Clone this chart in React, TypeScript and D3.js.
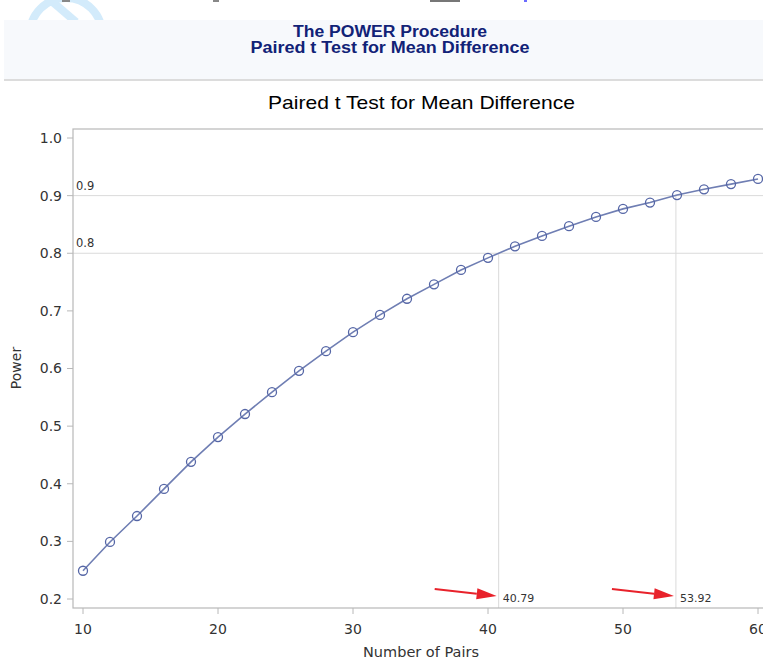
import React, { useEffect } from "react";
import * as d3 from "d3";

const pairs = [10, 12, 14, 16, 18, 20, 22, 24, 26, 28, 30, 32, 34, 36, 38, 40, 42, 44, 46, 48, 50, 52, 54, 56, 58, 60];
const power = [0.249, 0.299, 0.344, 0.391, 0.438, 0.481, 0.521, 0.559, 0.596, 0.630, 0.663, 0.693, 0.721, 0.746, 0.771, 0.792, 0.812, 0.830, 0.847, 0.863, 0.877, 0.888, 0.901, 0.911, 0.920, 0.929];
const xTicks = [10, 20, 30, 40, 50, 60];
const yTicks = [0.2, 0.3, 0.4, 0.5, 0.6, 0.7, 0.8, 0.9, 1.0];
const targetPowers = [0.8, 0.9];
const requiredPairs = [40.79, 53.92];
const headerLines = ["The POWER Procedure", "Paired t Test for Mean Difference"];
const headerWidths = [194, 279];
const chartTitle = "Paired t Test for Mean Difference";
const xLabel = "Number of Pairs";
const yLabel = "Power";

const W = 763;
const H = 666;
const FONT = "'DejaVu Sans', Verdana, sans-serif";

export default function App() {
  useEffect(() => {
    document.body.style.margin = "0";
  }, []);

  const x = d3.scaleLinear().domain([10, 60]).range([83, 758]);
  const y = d3.scaleLinear().domain([0.2, 1.0]).range([599, 138]);
  const frameL = 73, frameT = 129, frameB = 608, frameR = 780;

  const line = d3
    .line<number>()
    .x((_, i) => x(pairs[i]))
    .y((d) => y(d));

  const arrow = (tipX: number, tipY: number, key: string) => {
    const sx = tipX - 62, sy = tipY - 7;
    const ang = Math.atan2(tipY - sy, tipX - sx);
    const hl = 20, hw = 5.5;
    const bx = tipX - hl * Math.cos(ang), by = tipY - hl * Math.sin(ang);
    const px = -Math.sin(ang), py = Math.cos(ang);
    return (
      <g key={key}>
        <line x1={sx} y1={sy} x2={bx} y2={by} stroke="#e8222b" strokeWidth={2.2} />
        <polygon
          points={`${tipX},${tipY} ${bx + px * hw},${by + py * hw} ${bx - px * hw},${by - py * hw}`}
          fill="#e8222b"
        />
      </g>
    );
  };

  return (
    <svg width={W} height={H} style={{ display: "block", background: "#fff" }}>
      {/* watermark fragments */}
      <g>
        <clipPath id="topclip">
          <rect x={0} y={0} width={W} height={20} />
        </clipPath>
        <g clipPath="url(#topclip)">
          <circle cx={66} cy={34} r={36} fill="none" stroke="#d3ebfb" strokeWidth={8} />
          <line x1={48} y1={-2} x2={76} y2={22} stroke="#d3ebfb" strokeWidth={8} />
        </g>
        <rect x={62} y={0} width={8} height={2} fill="#888" />
        <rect x={213} y={0} width={6} height={2} fill="#888" />
        <rect x={430} y={0} width={30} height={2} fill="#777" />
        <rect x={524} y={0} width={3} height={2} fill="#6b6bff" />
      </g>

      {/* header panel */}
      <rect x={4} y={20} width={W - 4} height={60} fill="#f7f9fc" />
      <rect x={4} y={79} width={W - 4} height={2} fill="#dcdcdc" />
      {headerLines.map((t, i) => (
        <text
          key={t}
          x={390 - headerWidths[i] / 2}
          y={36.5 + i * 16.5}
          textLength={headerWidths[i]}
          lengthAdjust="spacingAndGlyphs"
          fontFamily="'Liberation Sans', Arial, sans-serif"
          fontWeight="bold"
          fontSize={16}
          fill="#112277"
        >
          {t}
        </text>
      ))}

      {/* title */}
      <text
        x={268}
        y={109}
        textLength={307}
        lengthAdjust="spacingAndGlyphs"
        fontFamily="'Liberation Sans', Arial, sans-serif"
        fontSize={19}
        fill="#000"
      >
        {chartTitle}
      </text>

      {/* reference lines */}
      {targetPowers.map((p) => (
        <g key={"h" + p}>
          <line x1={frameL} x2={frameR} y1={y(p)} y2={y(p)} stroke="#dadada" strokeWidth={1} />
          <text x={76} y={y(p) - 6} fontFamily={FONT} fontSize={11.5} fill="#333">
            {p.toFixed(1)}
          </text>
        </g>
      ))}
      {requiredPairs.map((n, i) => (
        <g key={"v" + n}>
          <line x1={x(n)} x2={x(n)} y1={y(targetPowers[i])} y2={frameB} stroke="#dadada" strokeWidth={1} />
          <text x={x(n) + 4} y={601.5} fontFamily={FONT} fontSize={11} fill="#333">
            {n.toFixed(2)}
          </text>
        </g>
      ))}

      {/* frame */}
      <rect x={frameL} y={frameT} width={frameR - frameL} height={frameB - frameT} fill="none" stroke="#b8b8b8" strokeWidth={1.2} />

      {/* y axis ticks */}
      {yTicks.map((t) => (
        <g key={"yt" + t}>
          <line x1={frameL - 6} x2={frameL} y1={y(t)} y2={y(t)} stroke="#b8b8b8" />
          <text x={frameL - 11} y={y(t)} dy="0.35em" textAnchor="end" fontFamily={FONT} fontSize={14} fill="#333">
            {t.toFixed(1)}
          </text>
        </g>
      ))}
      {/* x axis ticks */}
      {xTicks.map((t) => (
        <g key={"xt" + t}>
          <line x1={x(t)} x2={x(t)} y1={frameB} y2={frameB + 6} stroke="#b8b8b8" />
          <text x={x(t)} y={634} textAnchor="middle" fontFamily={FONT} fontSize={14} fill="#333">
            {t}
          </text>
        </g>
      ))}

      {/* axis labels */}
      <text x={421} y={657} textAnchor="middle" fontFamily={FONT} fontSize={14.5} fill="#333">
        {xLabel}
      </text>
      <text
        transform={`translate(21,368) rotate(-90)`}
        textAnchor="middle"
        fontFamily={FONT}
        fontSize={14}
        fill="#333"
      >
        {yLabel}
      </text>

      {/* series */}
      <path d={line(power) || ""} fill="none" stroke="#6f7eb3" strokeWidth={1.6} />
      {power.map((p, i) => (
        <circle key={"c" + i} cx={x(pairs[i])} cy={y(p)} r={4.5} fill="none" stroke="#5566a6" strokeWidth={1.3} />
      ))}

      {/* annotation arrows */}
      {requiredPairs.map((n, i) => arrow(x(n) - 2, 596, "a" + i))}
    </svg>
  );
}
